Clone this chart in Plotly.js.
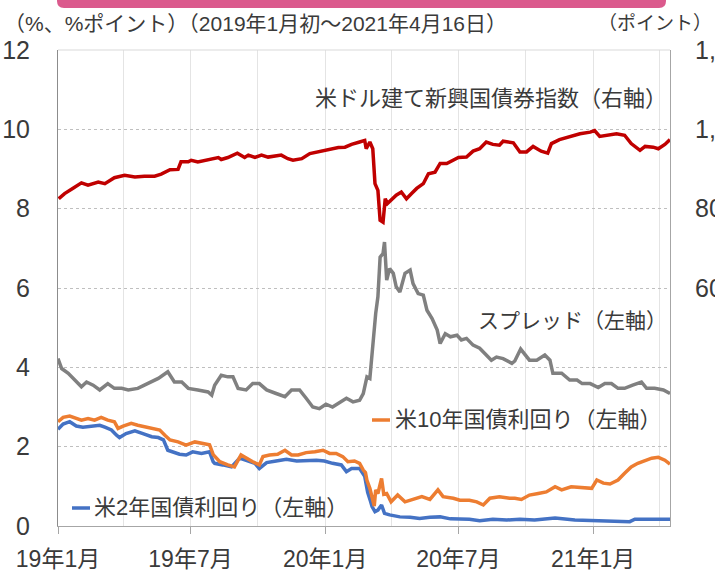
<!DOCTYPE html>
<html>
<head>
<meta charset="utf-8">
<script src="https://cdn.plot.ly/plotly-3.0.1.min.js"></script>
<style>html,body{margin:0;padding:0;background:#fff;}#chart{width:715px;height:574px;}</style>
</head>
<body>
<div id="chart"></div>
<script>
// ---- data ----
const idxDates = ["2019-01-02","2019-01-10","2019-01-21","2019-02-02","2019-02-11","2019-02-25","2019-03-06","2019-03-19","2019-04-02","2019-04-16","2019-04-29","2019-05-13","2019-05-22","2019-06-03","2019-06-14","2019-06-18","2019-06-28","2019-07-02","2019-07-11","2019-07-25","2019-08-08","2019-08-12","2019-08-21","2019-09-03","2019-09-13","2019-09-18","2019-09-27","2019-10-06","2019-10-15","2019-11-02","2019-11-11","2019-11-18","2019-11-30","2019-12-11","2019-12-22","2020-01-05","2020-01-19","2020-01-28","2020-02-06","2020-02-17","2020-02-24","2020-02-26","2020-03-02","2020-03-06","2020-03-09","2020-03-13","2020-03-16","2020-03-20","2020-03-23","2020-03-26","2020-03-31","2020-04-07","2020-04-14","2020-04-21","2020-04-28","2020-05-05","2020-05-14","2020-05-21","2020-05-30","2020-06-06","2020-06-15","2020-06-22","2020-07-01","2020-07-12","2020-07-21","2020-07-30","2020-08-08","2020-08-17","2020-08-26","2020-08-31","2020-09-14","2020-09-23","2020-10-02","2020-10-11","2020-10-22","2020-10-31","2020-11-05","2020-11-16","2020-11-30","2020-12-14","2020-12-28","2021-01-03","2021-01-10","2021-01-21","2021-02-02","2021-02-13","2021-02-22","2021-03-06","2021-03-13","2021-03-24","2021-03-31","2021-04-09","2021-04-16"];
const idxValues = [825,838,851,865,859,867,863,878,884,880,882,882,887,898,899,918,918,922,918,924,929,924,929,940,929,935,929,935,930,935,926,922,926,939,943,949,954,955,962,968,972,951,968,951,863,846,771,766,825,813,821,834,842,825,838,851,863,888,892,914,914,920,929,930,945,951,968,962,960,970,966,943,943,957,945,940,964,974,981,989,993,997,982,985,989,985,964,947,957,955,951,962,974];

const sprDates = ["2019-01-01","2019-01-06","2019-01-15","2019-01-24","2019-02-02","2019-02-09","2019-02-18","2019-02-27","2019-03-10","2019-03-19","2019-03-29","2019-04-07","2019-04-20","2019-04-29","2019-05-09","2019-05-18","2019-05-31","2019-06-09","2019-06-19","2019-06-28","2019-07-11","2019-07-25","2019-07-30","2019-08-03","2019-08-12","2019-08-21","2019-08-28","2019-09-04","2019-09-15","2019-09-24","2019-10-03","2019-10-13","2019-10-26","2019-11-07","2019-11-16","2019-11-27","2019-12-06","2019-12-15","2019-12-24","2020-01-02","2020-01-11","2020-01-23","2020-01-30","2020-02-08","2020-02-17","2020-02-22","2020-02-27","2020-03-02","2020-03-06","2020-03-10","2020-03-13","2020-03-16","2020-03-20","2020-03-22","2020-03-25","2020-03-29","2020-04-03","2020-04-07","2020-04-12","2020-04-19","2020-04-26","2020-04-30","2020-05-07","2020-05-14","2020-05-19","2020-05-26","2020-06-02","2020-06-06","2020-06-13","2020-06-20","2020-06-29","2020-07-05","2020-07-12","2020-07-21","2020-07-30","2020-08-08","2020-08-15","2020-08-22","2020-08-31","2020-09-12","2020-09-16","2020-09-24","2020-10-06","2020-10-16","2020-10-27","2020-11-03","2020-11-07","2020-11-19","2020-11-30","2020-12-10","2020-12-17","2020-12-28","2021-01-08","2021-01-17","2021-01-26","2021-02-04","2021-02-13","2021-02-24","2021-03-08","2021-03-15","2021-03-26","2021-04-07","2021-04-16"];
const sprValues = [4.22,3.97,3.85,3.68,3.51,3.63,3.55,3.43,3.59,3.47,3.47,3.43,3.47,3.55,3.63,3.72,3.89,3.63,3.63,3.47,3.43,3.38,3.30,3.55,3.80,3.76,3.76,3.47,3.43,3.59,3.59,3.43,3.34,3.26,3.43,3.43,3.22,3.00,2.96,3.07,3.00,3.13,3.22,3.13,3.17,3.34,3.76,3.72,4.60,5.36,5.78,6.78,6.87,7.16,6.20,6.49,6.37,6.03,5.90,6.37,6.45,6.11,5.86,5.82,5.44,5.23,4.94,4.60,4.85,4.77,4.81,4.69,4.73,4.56,4.48,4.31,4.18,4.26,4.22,4.10,4.16,4.46,4.18,4.18,4.31,4.18,3.85,3.85,3.68,3.68,3.59,3.59,3.49,3.59,3.59,3.47,3.47,3.55,3.63,3.47,3.47,3.43,3.34];

const y10Dates = ["2019-01-01","2019-01-08","2019-01-17","2019-01-26","2019-02-02","2019-02-11","2019-02-20","2019-03-01","2019-03-10","2019-03-19","2019-03-24","2019-03-31","2019-04-11","2019-04-20","2019-04-29","2019-05-11","2019-05-20","2019-05-27","2019-06-03","2019-06-14","2019-06-25","2019-07-07","2019-07-18","2019-07-27","2019-08-01","2019-08-10","2019-08-21","2019-08-30","2019-09-08","2019-09-15","2019-09-24","2019-10-03","2019-10-08","2019-10-17","2019-10-28","2019-11-07","2019-11-16","2019-11-25","2019-12-06","2019-12-18","2019-12-29","2020-01-07","2020-01-16","2020-01-25","2020-02-01","2020-02-10","2020-02-17","2020-02-22","2020-02-25","2020-02-27","2020-03-02","2020-03-08","2020-03-10","2020-03-13","2020-03-18","2020-03-21","2020-03-25","2020-03-31","2020-04-09","2020-04-19","2020-04-30","2020-05-12","2020-05-23","2020-06-03","2020-06-10","2020-06-24","2020-07-03","2020-07-16","2020-07-26","2020-08-04","2020-08-13","2020-08-26","2020-09-09","2020-09-16","2020-09-25","2020-10-06","2020-10-18","2020-10-29","2020-11-10","2020-11-19","2020-12-02","2020-12-17","2020-12-30","2021-01-06","2021-01-15","2021-01-24","2021-02-04","2021-02-13","2021-02-22","2021-03-03","2021-03-15","2021-03-22","2021-03-31","2021-04-09","2021-04-16"];
const y10Values = [2.63,2.74,2.77,2.71,2.67,2.71,2.67,2.74,2.67,2.63,2.46,2.52,2.59,2.54,2.50,2.46,2.42,2.29,2.17,2.12,2.04,2.12,2.08,2.05,1.80,1.62,1.54,1.49,1.79,1.71,1.62,1.54,1.75,1.79,1.81,1.91,1.79,1.79,1.85,1.87,1.91,1.83,1.83,1.75,1.62,1.64,1.58,1.41,1.35,1.15,0.95,0.50,0.91,0.82,1.20,0.80,0.82,0.61,0.78,0.61,0.67,0.74,0.67,0.91,0.74,0.70,0.65,0.65,0.61,0.53,0.70,0.74,0.70,0.70,0.67,0.78,0.82,0.86,0.99,0.91,0.99,0.97,0.95,1.16,1.08,1.06,1.16,1.33,1.49,1.58,1.66,1.71,1.73,1.66,1.56];

const y2Dates = ["2019-01-01","2019-01-08","2019-01-17","2019-01-26","2019-02-04","2019-02-15","2019-02-27","2019-03-06","2019-03-15","2019-03-22","2019-03-26","2019-04-04","2019-04-16","2019-04-27","2019-05-09","2019-05-18","2019-05-25","2019-05-31","2019-06-07","2019-06-16","2019-06-25","2019-07-04","2019-07-16","2019-07-27","2019-08-01","2019-08-03","2019-08-14","2019-08-26","2019-09-06","2019-09-15","2019-09-27","2019-10-03","2019-10-13","2019-10-26","2019-11-09","2019-11-23","2019-12-06","2019-12-20","2019-12-31","2020-01-11","2020-01-23","2020-01-30","2020-02-06","2020-02-17","2020-02-24","2020-02-28","2020-03-03","2020-03-05","2020-03-09","2020-03-13","2020-03-18","2020-03-22","2020-03-29","2020-04-12","2020-04-26","2020-05-09","2020-05-23","2020-06-06","2020-06-20","2020-07-03","2020-07-16","2020-07-30","2020-08-17","2020-09-05","2020-09-23","2020-10-13","2020-11-10","2020-12-07","2021-01-03","2021-01-31","2021-02-20","2021-02-27","2021-03-17","2021-03-31","2021-04-16"];
const y2Values = [2.44,2.57,2.63,2.52,2.49,2.52,2.54,2.49,2.42,2.29,2.23,2.33,2.40,2.33,2.25,2.23,2.17,1.91,1.87,1.81,1.79,1.87,1.83,1.87,1.62,1.58,1.54,1.49,1.71,1.66,1.58,1.45,1.60,1.64,1.68,1.64,1.66,1.66,1.64,1.58,1.54,1.37,1.45,1.45,1.25,0.85,0.62,0.49,0.36,0.40,0.53,0.32,0.28,0.23,0.22,0.19,0.22,0.23,0.18,0.18,0.17,0.13,0.17,0.15,0.17,0.15,0.20,0.15,0.13,0.13,0.11,0.17,0.17,0.19,0.17];

const seriesNames = ["米2年国債利回り（左軸）","米10年国債利回り（左軸）","スプレッド（左軸）","米ドル建て新興国債券指数（右軸）"];
const xTickVals = ["2019-01-01","2019-07-01","2020-01-01","2020-07-01","2021-01-01"];
const xTickText = ["19年1月","19年7月","20年1月","20年7月","21年1月"];
const yLeftTickVals = [0,2,4,6,8,10,12];
const yRightTickVals = [600,800,1000,1200];
const yRightTickText = ["600","800","1,000","1,200"];
const headerLeft = "（%、%ポイント）（2019年1月初～2021年4月16日）";
const headerRight = "（ポイント）";

// ---- chart ----
const FONT = "Liberation Sans, Arial, Noto Sans CJK JP, sans-serif";
const TXT = "#3a3a3a";
const C2 = "#4472C4", C10 = "#ED7D31", CS = "#808080", CI = "#C00000";

const traces = [
  {x: y2Dates, y: y2Values, name: seriesNames[0], type: "scatter", mode: "lines", line: {color: C2, width: 3.5}, yaxis: "y"},
  {x: y10Dates, y: y10Values, name: seriesNames[1], type: "scatter", mode: "lines", line: {color: C10, width: 3.5}, yaxis: "y"},
  {x: sprDates, y: sprValues, name: seriesNames[2], type: "scatter", mode: "lines", line: {color: CS, width: 3.5}, yaxis: "y"},
  {x: idxDates, y: idxValues, name: seriesNames[3], type: "scatter", mode: "lines", line: {color: CI, width: 3.5}, yaxis: "y2"}
];

// pixel helpers for decoration placement (plot area 58..670 x 50..526)
const L = 58, R = 670, T = 50, B = 526;
const px = v => (v - L) / (R - L);
const py = v => (B - v) / (B - T);

const layout = {
  width: 715, height: 574,
  margin: {l: L, r: 715 - R, t: T, b: 574 - B, pad: 0},
  paper_bgcolor: "#fff", plot_bgcolor: "#fff",
  showlegend: false,
  font: {family: FONT, color: TXT, size: 22},
  xaxis: {
    type: "date",
    range: ["2019-01-01", "2021-04-16"],
    tickmode: "array", tickvals: xTickVals, ticktext: xTickText,
    ticks: "outside", ticklen: 7, tickcolor: "#A6A6A6", tickwidth: 1,
    ticklabelstandoff: 5,
    tickfont: {size: 23, family: FONT, color: TXT},
    showgrid: true, gridcolor: "#E4E4E4", gridwidth: 1,
    minor: {tickmode: "linear", tick0: "2019-01-01", dtick: "M3", showgrid: true, gridcolor: "#E4E4E4", gridwidth: 1, ticks: ""},
    showline: true, linecolor: "#A6A6A6", linewidth: 1,
    zeroline: false, fixedrange: true
  },
  yaxis: {
    range: [0, 12], tickmode: "array", tickvals: yLeftTickVals,
    ticks: "", ticklabelstandoff: 22,
    tickfont: {size: 25, family: FONT, color: TXT},
    showgrid: true, gridcolor: "#BFBFBF", griddash: "dot", gridwidth: 1,
    showline: true, linecolor: "#8C8C8C", linewidth: 1,
    zeroline: false, fixedrange: true
  },
  yaxis2: {
    overlaying: "y", side: "right", range: [0, 1200],
    tickmode: "array", tickvals: yRightTickVals, ticktext: yRightTickText,
    ticks: "", ticklabelstandoff: 19,
    tickfont: {size: 25, family: FONT, color: TXT},
    showgrid: false, showline: true, linecolor: "#A6A6A6", linewidth: 1,
    zeroline: false, fixedrange: true
  },
  shapes: [
    {type: "line", xref: "paper", yref: "paper", x0: 0, x1: 1, y0: 1, y1: 1, line: {color: "#D9D9D9", width: 1}},
    {type: "path", xref: "paper", yref: "paper",
     path: (() => {
       const x0 = px(57), x1 = px(666), yt = py(-10), yb = py(8), rx = 7 / (R - L), ry = 7 / (B - T);
       return `M ${x0},${yt} L ${x0},${yb + ry} Q ${x0},${yb} ${x0 + rx},${yb} L ${x1 - rx},${yb} Q ${x1},${yb} ${x1},${yb + ry} L ${x1},${yt} Z`;
     })(),
     fillcolor: "#DB5A8D", line: {width: 0}},
    {type: "line", xref: "paper", yref: "paper", x0: px(372), x1: px(390), y0: py(420), y1: py(420), line: {color: C10, width: 3.5}},
    {type: "line", xref: "paper", yref: "paper", x0: px(72), x1: px(90), y0: py(508), y1: py(508), line: {color: C2, width: 3.5}}
  ],
  annotations: [
    {xref: "paper", yref: "paper", x: px(2), y: py(24), xanchor: "left", yanchor: "middle", showarrow: false, text: headerLeft, font: {size: 21, family: FONT, color: TXT}},
    {xref: "paper", yref: "paper", x: px(714), y: py(24), xanchor: "right", yanchor: "middle", showarrow: false, text: headerRight, font: {size: 19, family: FONT, color: TXT}},
    {xref: "paper", yref: "paper", x: px(669), y: py(99), xanchor: "right", yanchor: "middle", showarrow: false, text: seriesNames[3], font: {size: 22, family: FONT, color: TXT}},
    {xref: "paper", yref: "paper", x: px(669), y: py(320), xanchor: "right", yanchor: "middle", showarrow: false, text: seriesNames[2], font: {size: 21, family: FONT, color: TXT}},
    {xref: "paper", yref: "paper", x: px(393), y: py(419), xanchor: "left", yanchor: "middle", showarrow: false, text: seriesNames[1], font: {size: 22, family: FONT, color: TXT}},
    {xref: "paper", yref: "paper", x: px(92), y: py(507), xanchor: "left", yanchor: "middle", showarrow: false, text: seriesNames[0], font: {size: 22, family: FONT, color: TXT}}
  ]
};

Plotly.newPlot("chart", traces, layout, {staticPlot: true, displayModeBar: false});
</script>
</body>
</html>
